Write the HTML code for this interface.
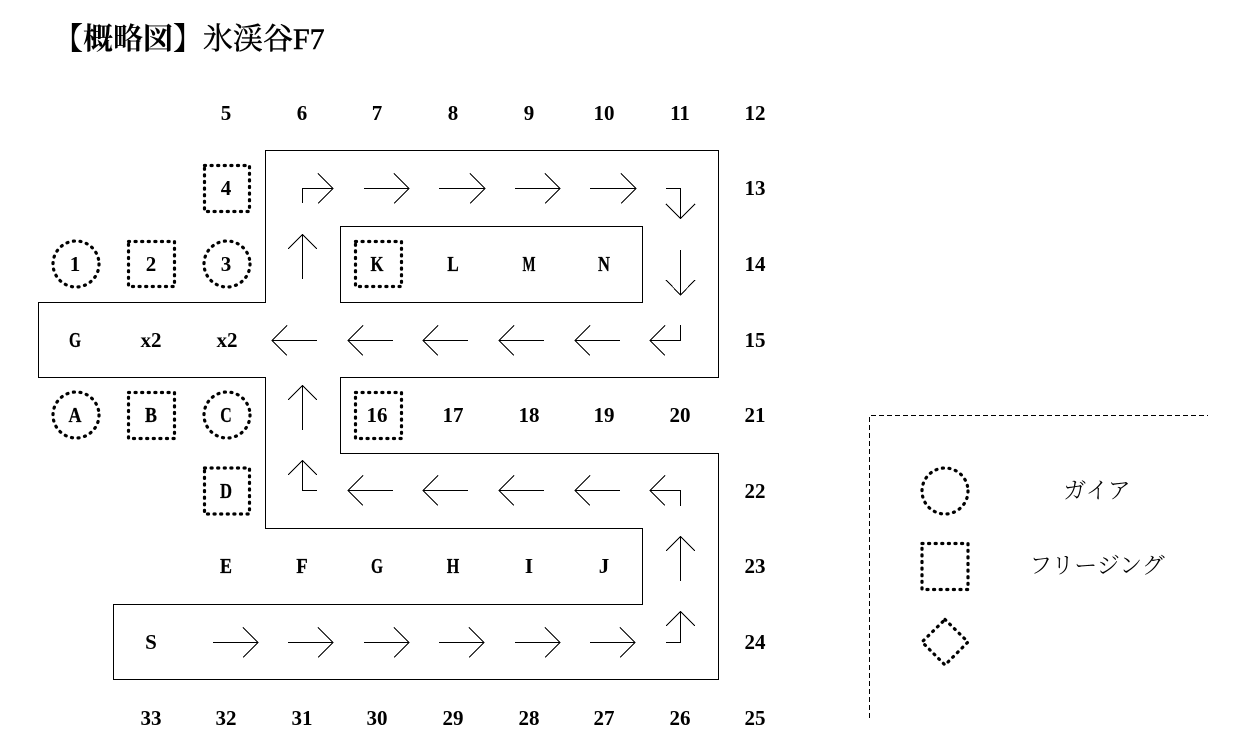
<!DOCTYPE html>
<html><head><meta charset="utf-8">
<style>
html,body{margin:0;padding:0;background:#fff;width:1247px;height:755px;overflow:hidden}
svg{display:block}
.t{font-family:"Liberation Serif","Noto Serif CJK JP",serif;font-weight:bold;font-size:21px;text-anchor:middle;fill:#000}
.n{stroke:#000;stroke-width:0.25}
.b{fill:none;stroke:#000;stroke-width:1;shape-rendering:crispEdges}
.a{fill:none;stroke:#000;stroke-width:1;shape-rendering:crispEdges}
.d{fill:none;stroke:#000;stroke-width:3.2;stroke-dasharray:1 5.6;stroke-linecap:round}
.l{font-family:"Noto Serif CJK JP","Liberation Serif",serif;font-size:23px;text-anchor:middle;fill:#000;font-weight:300}
</style></head><body>
<svg width="1247" height="755" viewBox="0 0 1247 755" xmlns="http://www.w3.org/2000/svg">
<text x="53" y="49" font-family="'Liberation Serif','Noto Serif CJK JP',serif" font-size="30" font-weight="bold">【概略図】</text>
<text x="203" y="49" font-family="'Liberation Serif','Noto Serif CJK JP',serif" font-size="30" stroke="#000" stroke-width="0.5">氷渓谷F7</text>

<path class="b" d="M265.500 150.500H718.500V377.500H340.500V453.500H718.500V679.500H113.500V604.500H642.500V528.500H265.500V377.500H38.500V302.500H265.500Z"/>
<path class="b" d="M340.500 226.500H642.500V302.500H340.500Z"/>

<path class="a" d="M302.500 203V188.500H333M318 173.500L333 188.500L318 203.500"/>
<path class="a" d="M364 188.500H409M394 173.500L409 188.500L394 203.500"/>
<path class="a" d="M439 188.500H484M470 173.500L485 188.500L470 203.500"/>
<path class="a" d="M515 188.500H560M545 173.500L560 188.500L545 203.500"/>
<path class="a" d="M590 188.500H635M621 173.500L636 188.500L621 203.500"/>
<path class="a" d="M666 188.500H680.500V218M666 204L680.500 218.500L695 204"/>
<path class="a" d="M680.500 250V295M666 280L680.500 295L695 280"/>
<path class="a" d="M680.500 325V340.500H650M665 325.500L650 340.500L665 355.500"/>
<path class="a" d="M317 340.500H272M287 325.500L272 340.500L287 355.500"/>
<path class="a" d="M393 340.500H348M363 325.500L348 340.500L363 355.500"/>
<path class="a" d="M468 340.500H423M438 325.500L423 340.500L438 355.500"/>
<path class="a" d="M544 340.500H499M514 325.500L499 340.500L514 355.500"/>
<path class="a" d="M620 340.500H575M590 325.500L575 340.500L590 355.500"/>
<path class="a" d="M302.500 279V234M288 249L302.500 234.500L317 249"/>
<path class="a" d="M302.500 430V385M288 400L302.500 385.500L317 400"/>
<path class="a" d="M317 490.500H302.500V460M288 475L302.500 460.500L317 475"/>
<path class="a" d="M393 490.500H348M363 475.500L348 490.500L363 505.500"/>
<path class="a" d="M468 490.500H423M438 475.500L423 490.500L438 505.500"/>
<path class="a" d="M544 490.500H499M514 475.500L499 490.500L514 505.500"/>
<path class="a" d="M620 490.500H575M590 475.500L575 490.500L590 505.500"/>
<path class="a" d="M680.500 506V490.500H650M665 475.500L650 490.500L665 505.500"/>
<path class="a" d="M680.500 581V536M666 551L680.500 536.500L695 551"/>
<path class="a" d="M666 642.500H680.500V611M666 626L680.500 611.500L695 626"/>
<path class="a" d="M213 642.500H258M243 627.500L258 642.500L243 657.500"/>
<path class="a" d="M288 642.500H333M318 627.500L333 642.500L318 657.500"/>
<path class="a" d="M364 642.500H409M394 627.500L409 642.500L394 657.500"/>
<path class="a" d="M439 642.500H484M469 627.500L484 642.500L469 657.500"/>
<path class="a" d="M515 642.500H560M545 627.500L560 642.500L545 657.500"/>
<path class="a" d="M590 642.500H635M620 627.500L635 642.500L620 657.500"/>

<rect class="d" x="204.500" y="165.500" width="45" height="46"/>
<circle class="d" cx="76" cy="264" r="23"/>
<rect class="d" x="128.500" y="241.500" width="46" height="45"/>
<circle class="d" cx="227" cy="264" r="23"/>
<rect class="d" x="355.500" y="241.500" width="46" height="45"/>
<circle class="d" cx="76" cy="415" r="23"/>
<rect class="d" x="128.500" y="392.500" width="46" height="46"/>
<circle class="d" cx="227" cy="415" r="23"/>
<rect class="d" x="355.500" y="392.500" width="46" height="46"/>
<rect class="d" x="204.500" y="468" width="45" height="46"/>

<circle class="d" cx="945" cy="491" r="23"/>
<rect class="d" x="922" y="543.500" width="46" height="46"/>
<path class="d" d="M945 619.500L968 642L945 665L922 642Z"/>
<path d="M869.500 718V415.500H1208" fill="none" stroke="#000" stroke-width="1" stroke-dasharray="5 3" shape-rendering="crispEdges"/>
<text class="l" x="1097" y="498">ガイア</text>
<text class="l" x="1097" y="573">フリージング</text>

<g>
<text class="t" x="226" y="120">5</text><text class="t" x="302" y="120">6</text><text class="t" x="377" y="120">7</text><text class="t" x="453" y="120">8</text><text class="t" x="529" y="120">9</text><text class="t" x="604" y="120">10</text><text class="t" x="680" y="120">11</text><text class="t" x="755" y="120">12</text>
<text class="t" x="226" y="195">4</text><text class="t" x="755" y="195">13</text>
<text class="t" x="75" y="271">1</text><text class="t" x="151" y="271">2</text><text class="t" x="226" y="271">3</text><text class="t n" x="377" y="271" textLength="13" lengthAdjust="spacingAndGlyphs">K</text><text class="t n" x="453" y="271" textLength="11.500" lengthAdjust="spacingAndGlyphs">L</text><text class="t n" x="529" y="271" textLength="13" lengthAdjust="spacingAndGlyphs">M</text><text class="t n" x="604" y="271" textLength="12" lengthAdjust="spacingAndGlyphs">N</text><text class="t" x="755" y="271">14</text>
<text class="t n" x="75" y="347" textLength="12" lengthAdjust="spacingAndGlyphs">G</text><text class="t" x="151" y="347">x2</text><text class="t" x="227" y="347">x2</text><text class="t" x="755" y="347">15</text>
<text class="t n" x="75" y="422" textLength="13" lengthAdjust="spacingAndGlyphs">A</text><text class="t n" x="151" y="422" textLength="12" lengthAdjust="spacingAndGlyphs">B</text><text class="t n" x="226" y="422" textLength="11.500" lengthAdjust="spacingAndGlyphs">C</text><text class="t" x="377" y="422">16</text><text class="t" x="453" y="422">17</text><text class="t" x="529" y="422">18</text><text class="t" x="604" y="422">19</text><text class="t" x="680" y="422">20</text><text class="t" x="755" y="422">21</text>
<text class="t n" x="226" y="498" textLength="12" lengthAdjust="spacingAndGlyphs">D</text><text class="t" x="755" y="498">22</text>
<text class="t n" x="226" y="573" textLength="12" lengthAdjust="spacingAndGlyphs">E</text><text class="t n" x="302" y="573" textLength="11.500" lengthAdjust="spacingAndGlyphs">F</text><text class="t n" x="377" y="573" textLength="12" lengthAdjust="spacingAndGlyphs">G</text><text class="t n" x="453" y="573" textLength="12.500" lengthAdjust="spacingAndGlyphs">H</text><text class="t" x="529" y="573">I</text><text class="t" x="604" y="573">J</text><text class="t" x="755" y="573">23</text>
<text class="t" x="151" y="649">S</text><text class="t" x="755" y="649">24</text>
<text class="t" x="151" y="725">33</text><text class="t" x="226" y="725">32</text><text class="t" x="302" y="725">31</text><text class="t" x="377" y="725">30</text><text class="t" x="453" y="725">29</text><text class="t" x="529" y="725">28</text><text class="t" x="604" y="725">27</text><text class="t" x="680" y="725">26</text><text class="t" x="755" y="725">25</text>
</g>
</svg>
</body></html>
